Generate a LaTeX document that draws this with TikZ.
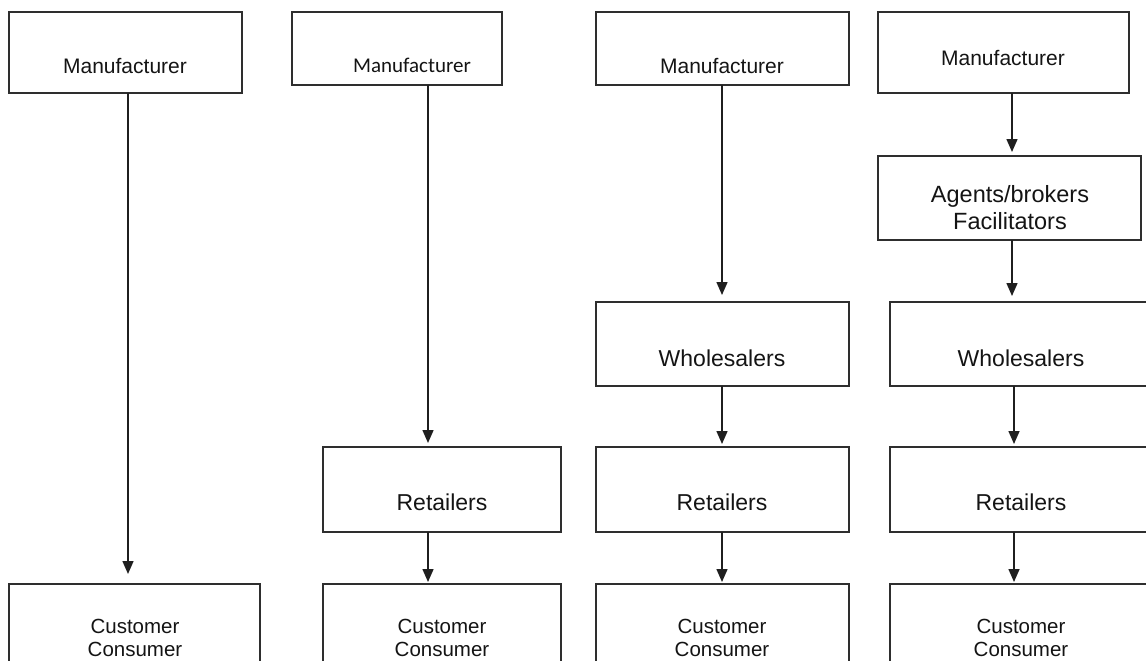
\documentclass[tikz,border=0pt]{standalone}
\usepackage{fontspec}
\setmainfont{Liberation Sans}
\newfontfamily\calfont{Carlito}
\usetikzlibrary{arrows.meta}
\begin{document}
\begin{tikzpicture}[x=1pt,y=-1pt,
  box/.style={draw=black!82, line width=1.6pt, rectangle, inner sep=0pt,
              outer sep=0pt, anchor=north west},
  lbl/.style={anchor=base, inner sep=0pt, text=black!92},
  flow/.style={draw=black!88, line width=1.5pt,
               -{Triangle[width=11pt,length=13pt]}}
]
\path[use as bounding box, clip] (0,0) rectangle (1146,661);

% arrow columns
\coordinate (a1) at (128,0);
\coordinate (a2) at (428,0);
\coordinate (a3) at (722,0);
\coordinate (a4) at (1012,0);
\coordinate (a5) at (1014,0);

% ---- column 1: direct channel
\node[box, minimum width=233pt, minimum height=81pt] (m1) at (9,12) {};
\node[box, minimum width=251pt, minimum height=120pt] (c1) at (9,584) {};
\node[lbl, font=\fontsize{21}{25}\selectfont] (m1t) at (125,74) {Manufacturer};
\node[lbl, font=\fontsize{20.5}{24}\selectfont] (c1t) at (135,633) {Customer};
\node[lbl, font=\fontsize{20.5}{24}\selectfont] (c1u) at (135,656) {Consumer};
\draw[flow, shorten >=10pt] (m1.south -| a1) -- (c1.north -| a1);

% ---- column 2: via retailers
\node[box, minimum width=210pt, minimum height=73pt] (m2) at (292,12) {};
\node[box, minimum width=238pt, minimum height=85pt] (r2) at (323,447) {};
\node[box, minimum width=238pt, minimum height=120pt] (c2) at (323,584) {};
\node[lbl, font=\calfont\fontsize{21}{25}\selectfont] (m2t) at (412,73) {Manufacturer};
\node[lbl, font=\fontsize{23}{27}\selectfont] (r2t) at (442,510) {Retailers};
\node[lbl, font=\fontsize{20.5}{24}\selectfont] (c2t) at (442,633) {Customer};
\node[lbl, font=\fontsize{20.5}{24}\selectfont] (c2u) at (442,656) {Consumer};
\draw[flow, shorten >=4pt] (m2.south -| a2) -- (r2.north -| a2);
\draw[flow, shorten >=2pt] (r2.south -| a2) -- (c2.north -| a2);

% ---- column 3: via wholesalers and retailers
\node[box, minimum width=253pt, minimum height=73pt] (m3) at (596,12) {};
\node[box, minimum width=253pt, minimum height=84pt] (w3) at (596,302) {};
\node[box, minimum width=253pt, minimum height=85pt] (r3) at (596,447) {};
\node[box, minimum width=253pt, minimum height=120pt] (c3) at (596,584) {};
\node[lbl, font=\fontsize{21}{25}\selectfont] (m3t) at (722,74) {Manufacturer};
\node[lbl, font=\fontsize{23}{27}\selectfont] (w3t) at (722,366) {Wholesalers};
\node[lbl, font=\fontsize{23}{27}\selectfont] (r3t) at (722,510) {Retailers};
\node[lbl, font=\fontsize{20.5}{24}\selectfont] (c3t) at (722,633) {Customer};
\node[lbl, font=\fontsize{20.5}{24}\selectfont] (c3u) at (722,656) {Consumer};
\draw[flow, shorten >=7pt] (m3.south -| a3) -- (w3.north -| a3);
\draw[flow, shorten >=3pt] (w3.south -| a3) -- (r3.north -| a3);
\draw[flow, shorten >=2pt] (r3.south -| a3) -- (c3.north -| a3);

% ---- column 4: via agents, wholesalers and retailers
\node[box, minimum width=251pt, minimum height=81pt] (m4) at (878,12) {};
\node[box, minimum width=263pt, minimum height=84pt] (ag4) at (878,156) {};
\node[box, minimum width=270pt, minimum height=84pt] (w4) at (890,302) {};
\node[box, minimum width=270pt, minimum height=85pt] (r4) at (890,447) {};
\node[box, minimum width=270pt, minimum height=120pt] (c4) at (890,584) {};
\node[lbl, font=\fontsize{21}{25}\selectfont] (m4t) at (1003,66) {Manufacturer};
\node[lbl, font=\fontsize{23.5}{27}\selectfont] (ag4t) at (1010,202) {Agents/brokers};
\node[lbl, font=\fontsize{23.5}{27}\selectfont] (ag4u) at (1010,229) {Facilitators};
\node[lbl, font=\fontsize{23}{27}\selectfont] (w4t) at (1021,366) {Wholesalers};
\node[lbl, font=\fontsize{23}{27}\selectfont] (r4t) at (1021,510) {Retailers};
\node[lbl, font=\fontsize{20.5}{24}\selectfont] (c4t) at (1021,633) {Customer};
\node[lbl, font=\fontsize{20.5}{24}\selectfont] (c4u) at (1021,656) {Consumer};
\draw[flow, shorten >=4pt] (m4.south -| a4) -- (ag4.north -| a4);
\draw[flow, shorten >=6pt] (ag4.south -| a4) -- (w4.north -| a4);
\draw[flow, shorten >=3pt] (w4.south -| a5) -- (r4.north -| a5);
\draw[flow, shorten >=2pt] (r4.south -| a5) -- (c4.north -| a5);
\end{tikzpicture}
\end{document}
